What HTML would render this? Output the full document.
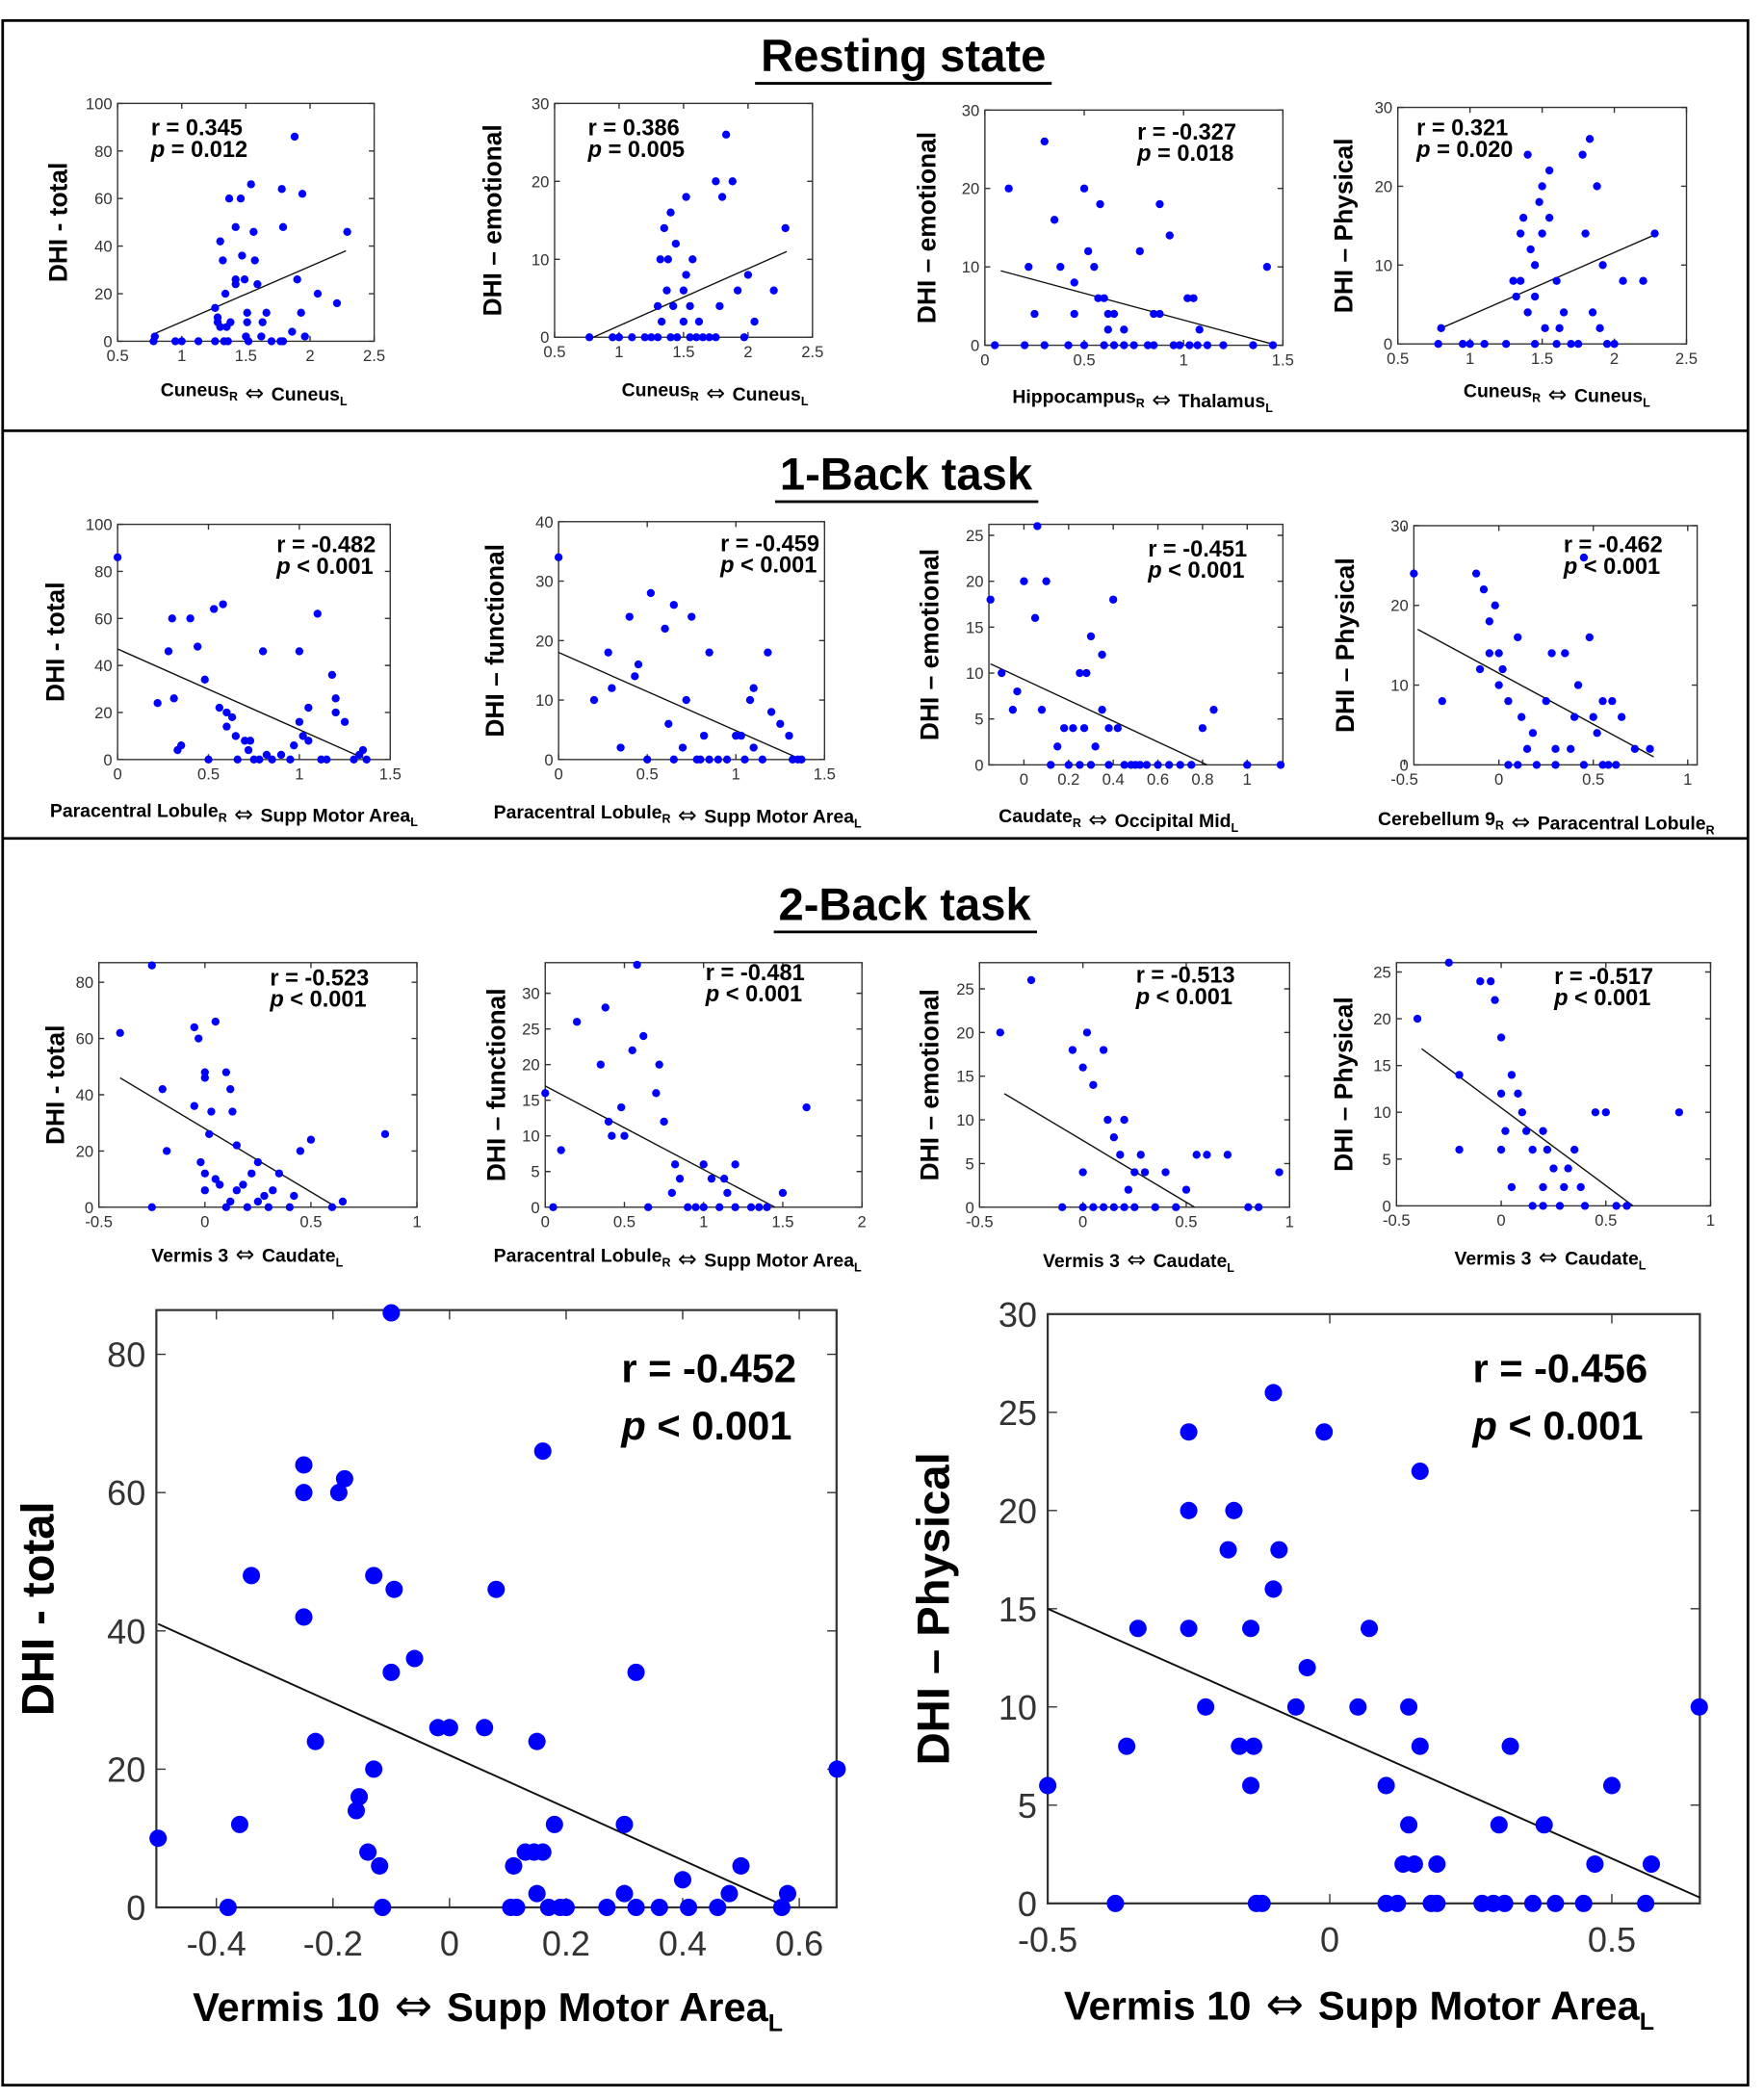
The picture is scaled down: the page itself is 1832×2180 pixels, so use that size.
<!DOCTYPE html>
<html><head><meta charset="utf-8"><title>DHI correlations</title>
<style>
html,body{margin:0;padding:0;background:#fff;}
svg{display:block;font-family:"Liberation Sans",Arial,sans-serif;}
</style></head>
<body>
<svg id="fig" width="1832" height="2180" viewBox="0 0 1320 1570" xmlns="http://www.w3.org/2000/svg">
<rect x="2" y="15" width="1306" height="1545" fill="none" stroke="#000" stroke-width="2"/>
<line x1="2" y1="322" x2="1308" y2="322" stroke="#000" stroke-width="2"/>
<line x1="2" y1="627" x2="1308" y2="627" stroke="#000" stroke-width="2"/>
<text x="676" y="53" text-anchor="middle" font-size="34" font-weight="bold">Resting state</text>
<line x1="565" y1="62" x2="787" y2="62" stroke="#000" stroke-width="2"/>
<text x="678" y="366" text-anchor="middle" font-size="34" font-weight="bold">1-Back task</text>
<line x1="580" y1="375" x2="777" y2="375" stroke="#000" stroke-width="2"/>
<text x="677" y="688" text-anchor="middle" font-size="34" font-weight="bold">2-Back task</text>
<line x1="579" y1="697" x2="776" y2="697" stroke="#000" stroke-width="2"/>
<g id="plots"></g>
</svg>
<script>
// ---- data arrays ----
const p1x=[0.78,0.79,0.95,1.0,1.13,1.26,1.26,1.28,1.28,1.3,1.3,1.32,1.33,1.34,1.35,1.36,1.37,1.38,1.42,1.42,1.42,1.46,1.47,1.49,1.5,1.51,1.51,1.52,1.54,1.56,1.57,1.59,1.62,1.63,1.66,1.7,1.77,1.78,1.79,1.79,1.86,1.88,1.9,1.93,1.94,1.96,2.06,2.21,2.29];
const p1y=[0,2,0,0,0,0,14,10,8,6,42,34,0,20,6,0,60,8,48,24,26,60,36,26,2,12,8,0,66,46,34,24,2,8,12,0,0,64,48,0,4,86,26,12,62,2,20,16,46];
const p2x=[0.77,0.95,1.0,1.1,1.2,1.25,1.3,1.32,1.33,1.35,1.37,1.38,1.4,1.42,1.44,1.45,1.5,1.5,1.52,1.52,1.55,1.57,1.6,1.62,1.65,1.75,1.78,1.8,1.83,1.88,1.92,1.97,2.0,2.05,2.2,2.29,1.3,1.4,1.55,1.7,1.75];
const p2y=[0,0,0,0,0,0,4,10,2,14,6,10,16,4,12,0,6,2,8,18,4,10,0,2,0,20,4,18,26,20,6,0,8,2,6,14,0,0,0,0,0];
const p3x=[0.05,0.12,0.2,0.22,0.25,0.3,0.35,0.38,0.42,0.45,0.45,0.5,0.52,0.55,0.57,0.58,0.6,0.62,0.62,0.65,0.6,0.7,0.75,0.78,0.82,0.85,0.85,0.88,0.88,0.93,0.95,0.98,1.02,1.05,1.03,1.07,1.08,1.12,1.2,1.35,1.42,1.45,0.3,0.5,0.65,0.7];
const p3y=[0,20,0,10,4,26,16,10,0,4,8,20,12,10,6,18,6,4,2,4,0,2,0,12,0,0,4,4,18,14,0,0,6,6,0,0,2,0,0,0,10,0,0,0,0,0];
const p4x=[0.78,0.8,0.95,1.0,1.1,1.25,1.3,1.32,1.35,1.35,1.37,1.4,1.4,1.42,1.45,1.45,1.48,1.5,1.5,1.52,1.55,1.55,1.6,1.6,1.62,1.65,1.7,1.75,1.78,1.8,1.83,1.85,1.88,1.9,1.92,2.0,2.06,2.2,2.28,1.95,1.45];
const p4y=[0,2,0,0,0,0,8,6,8,14,16,4,24,12,6,10,18,14,20,2,22,16,0,8,2,4,0,0,24,14,26,4,20,2,10,0,8,8,14,0,0];
const p5x=[0,0.22,0.28,0.3,0.31,0.33,0.35,0.4,0.44,0.48,0.5,0.53,0.56,0.58,0.6,0.6,0.63,0.65,0.66,0.7,0.72,0.73,0.75,0.8,0.78,0.82,0.85,0.9,0.95,0.97,1.0,1.0,1.02,1.05,1.05,1.1,1.12,1.15,1.18,1.2,1.2,1.25,1.3,1.33,1.35,1.37];
const p5y=[86,24,46,60,26,4,6,60,48,34,0,64,22,66,20,14,18,10,0,8,4,8,0,46,0,2,0,2,0,6,46,16,10,8,22,62,0,0,36,26,20,16,0,2,4,0];
const p6x=[0,0.2,0.28,0.3,0.35,0.4,0.43,0.45,0.5,0.52,0.6,0.62,0.65,0.65,0.7,0.72,0.75,0.78,0.8,0.82,0.85,0.85,0.9,0.95,1.0,1.03,1.05,1.08,1.1,1.1,1.15,1.18,1.2,1.25,1.3,1.32,1.37,1.35];
const p6y=[34,10,18,12,2,24,14,16,0,28,22,6,0,26,2,10,24,0,0,4,0,18,0,0,4,4,0,10,12,2,0,18,8,6,4,0,0,0];
const p7x=[-0.15,-0.1,-0.05,-0.03,0,0.05,0.06,0.08,0.1,0.12,0.15,0.18,0.2,0.22,0.25,0.27,0.28,0.3,0.32,0.35,0.35,0.38,0.4,0.38,0.42,0.45,0.48,0.5,0.52,0.55,0.6,0.65,0.7,0.75,0.8,0.85,1.0,1.15,0.3,0.25];
const p7y=[18,10,6,8,20,16,26,6,20,0,2,4,0,4,10,4,10,14,2,6,12,4,18,0,4,0,0,0,0,0,0,0,0,0,4,6,0,0,0,0];
const p8x=[-0.45,-0.3,-0.12,-0.08,-0.1,-0.05,-0.05,-0.02,0,0,0.02,0.05,0.05,0.1,0.12,0.1,0.15,0.18,0.2,0.25,0.28,0.3,0.3,0.35,0.38,0.4,0.42,0.45,0.48,0.5,0.52,0.55,0.58,0.6,0.62,0.65,0.72,0.8,0.55,0.45];
const p8y=[24,8,24,22,12,18,14,20,14,10,12,8,0,16,6,0,2,4,0,8,14,2,0,14,2,6,10,0,16,6,4,8,0,8,0,6,2,2,0,26];
const p9x=[-0.4,-0.25,-0.2,-0.18,-0.05,-0.03,-0.05,0,0,0.02,0.05,0.03,0.1,0.12,0.15,0.13,0,0,-0.02,0.05,0.07,0.1,0.12,0.15,0.18,0.2,0.22,0.25,0.25,0.28,0.3,0.32,0.35,0.4,0.42,0.45,0.5,0.6,0.65,0.85,-0.25];
const p9y=[62,86,42,20,64,60,36,46,48,26,66,34,48,42,22,34,12,6,16,10,8,0,2,6,8,0,12,16,2,4,0,6,12,0,4,20,24,0,2,26,0];
const p10x=[0,0.05,0.1,0.2,0.38,0.35,0.4,0.42,0.48,0.5,0.55,0.58,0.62,0.7,0.72,0.75,0.8,0.82,0.85,0.9,0.95,1.0,1.0,1.05,1.1,1.13,1.15,1.2,1.2,1.3,1.35,1.4,1.5,1.65,0.65];
const p10y=[16,0,8,26,28,20,12,10,14,10,22,34,24,16,20,12,2,6,4,0,0,0,6,4,0,4,2,6,0,0,0,0,2,14,0];
const p11x=[-0.4,-0.25,0,0.02,-0.05,0.1,0.05,0.12,0.15,0.18,0.2,0,0,0.05,0.1,0.15,0.2,0.22,0.25,0.28,0.3,0.35,0.4,0.45,0.5,0.55,0.6,0.7,0.8,0.85,0.95,-0.1,0.25];
const p11y=[20,26,16,20,18,18,14,10,8,6,10,4,0,0,0,0,0,2,4,6,4,0,4,0,2,6,6,6,0,0,4,0,0];
const p12x=[-0.4,-0.25,-0.2,-0.1,-0.05,-0.03,0,0,0.02,0,0.05,0.08,0.1,0.12,0.15,0.2,0.2,0.22,0.25,0.28,0.3,0.32,0.35,0.38,0.4,0.45,0.5,0.55,0.6,0.85,-0.2,0.05,0.15,0.2];
const p12y=[20,26,14,24,24,22,18,12,8,6,14,12,10,8,6,2,8,6,4,0,2,4,6,2,0,10,10,0,0,10,6,2,0,0];
const p13x=[-0.5,-0.38,-0.36,-0.34,-0.25,-0.25,-0.25,-0.23,-0.19,-0.18,-0.16,-0.155,-0.14,-0.13,-0.13,-0.12,-0.115,-0.1,-0.1,-0.095,-0.06,-0.02,0,0.06,0.08,0.105,0.11,0.115,0.13,0.145,0.15,0.15,0.16,0.16,0.17,0.18,0.19,0.2,0.27,0.3,0.3,0.32,0.32,0.36,0.4,0.41,0.46,0.48,0.5,0.57,0.58,0.665];
const p13y=[10,0,12,48,64,60,42,24,60,62,14,16,8,20,48,6,0,86,34,46,36,26,26,26,46,0,6,0,8,8,24,2,8,66,0,12,0,0,0,12,2,34,0,0,4,0,0,2,6,0,2,20];
const p14x=[-0.5,-0.38,-0.34,-0.36,-0.25,-0.25,-0.25,-0.22,-0.18,-0.17,-0.16,-0.14,-0.14,-0.135,-0.13,-0.12,-0.1,-0.1,-0.09,-0.06,-0.04,-0.01,0.05,0.07,0.1,0.1,0.12,0.13,0.14,0.14,0.15,0.16,0.16,0.18,0.19,0.19,0.27,0.29,0.31,0.3,0.32,0.36,0.38,0.4,0.45,0.47,0.5,0.56,0.57,0.655];
const p14y=[6,0,14,8,24,20,14,10,18,20,8,6,14,8,0,0,26,16,18,10,12,24,10,14,6,0,0,2,10,4,2,8,22,0,2,0,0,0,0,4,8,0,4,0,0,2,6,0,2,10];
// regression line endpoints (x pairs, y pairs)
const fitX=[[0.78,2.28],[0.8,2.3],[0.08,1.47],[0.8,2.3],[0,1.37],[0,1.37],[-0.15,0.82],[-0.43,0.82],[-0.4,0.62],[0,1.45],[-0.38,0.54],[-0.38,0.63],[-0.5,0.58],[-0.5,0.656]];
const fitY=[[3,38],[0,11],[9.5,0],[2,14],[47,0],[18,0],[11,0],[17,1],[46,0],[17,0],[13,0],[16.8,0],[41,0],[15,0.3]];
const rVals=["0.345","0.386","-0.327","0.321","-0.482","-0.459","-0.451","-0.462","-0.523","-0.481","-0.513","-0.517","-0.452","-0.456"];
const pVals=["= 0.012","= 0.005","= 0.018","= 0.020","< 0.001","< 0.001","< 0.001","< 0.001","< 0.001","< 0.001","< 0.001","< 0.001","< 0.001","< 0.001"];
const yLabels=["DHI - total","DHI \u2013 emotional","DHI \u2013 emotional","DHI \u2013 Physical","DHI - total","DHI \u2013 functional","DHI \u2013 emotional","DHI \u2013 Physical","DHI - total","DHI \u2013 functional","DHI \u2013 emotional","DHI \u2013 Physical","DHI - total","DHI \u2013 Physical"];
const xLabA=["Cuneus","Cuneus","Hippocampus","Cuneus","Paracentral Lobule","Paracentral Lobule","Caudate","Cerebellum 9","Vermis 3","Paracentral Lobule","Vermis 3","Vermis 3","Vermis 10","Vermis 10"];
const xSubA=["R","R","R","R","R","R","R","R","","R","","","",""];
const xLabB=["Cuneus","Cuneus","Thalamus","Cuneus","Supp Motor Area","Supp Motor Area","Occipital Mid","Paracentral Lobule","Caudate","Supp Motor Area","Caudate","Caudate","Supp Motor Area","Supp Motor Area"];
const xSubB=["L","L","L","L","L","L","L","R","L","L","L","L","L","L"];
const xTicks=[[0.5,1,1.5,2,2.5],[0.5,1,1.5,2,2.5],[0,0.5,1,1.5],[0.5,1,1.5,2,2.5],[0,0.5,1,1.5],[0,0.5,1,1.5],[0,0.2,0.4,0.6,0.8,1],[-0.5,0,0.5,1],[-0.5,0,0.5,1],[0,0.5,1,1.5,2],[-0.5,0,0.5,1],[-0.5,0,0.5,1],[-0.4,-0.2,0,0.2,0.4,0.6],[-0.5,0,0.5]];
const yTicks=[[0,20,40,60,80,100],[0,10,20,30],[0,10,20,30],[0,10,20,30],[0,20,40,60,80,100],[0,10,20,30,40],[0,5,10,15,20,25],[0,10,20,30],[0,20,40,60,80],[0,5,10,15,20,25,30],[0,5,10,15,20,25],[0,5,10,15,20,25],[0,20,40,60,80],[0,5,10,15,20,25,30]];
const allX=[p1x,p2x,p3x,p4x,p5x,p6x,p7x,p8x,p9x,p10x,p11x,p12x,p13x,p14x];
const allY=[p1y,p2y,p3y,p4y,p5y,p6y,p7y,p8y,p9y,p10y,p11y,p12y,p13y,p14y];
// ---- layout (positions only) ----
const L=[
 {l:88,t:77,r:280,b:255,x0:0.5,x1:2.5,y0:0,y1:100,yl:50,sx:113,sy:101,xc:190,xy:296},
 {l:415,t:77,r:608,b:252,x0:0.5,x1:2.5,y0:0,y1:30,yl:375,sx:440,sy:101,xc:535,xy:296},
 {l:737,t:82,r:960,b:258,x0:0,x1:1.5,y0:0,y1:30,yl:700,sx:851,sy:104,xc:855,xy:301},
 {l:1046,t:80,r:1262,b:257,x0:0.5,x1:2.5,y0:0,y1:30,yl:1012,sx:1060,sy:101,xc:1165,xy:297},
 {l:88,t:392,r:292,b:568,x0:0,x1:1.5,y0:0,y1:100,yl:48,sx:207,sy:413,xc:175,xy:611},
 {l:418,t:390,r:617,b:568,x0:0,x1:1.5,y0:0,y1:40,yl:377,sx:539,sy:412,xc:507,xy:612},
 {l:740,t:392,r:960,b:572,x0:-0.157,x1:1.16,y0:0,y1:26.2,yl:702,sx:859,sy:416,xc:837,xy:615},
 {l:1058,t:393,r:1270,b:572,x0:-0.45,x1:1.05,y0:0,y1:30,yl:1013,sx:1170,sy:413,xc:1157,xy:617},
 {l:74,t:720,r:312,b:903,x0:-0.5,x1:1,y0:0,y1:87,yl:48,sx:202,sy:737,xc:185,xy:944},
 {l:408,t:720,r:645,b:903,x0:0,x1:2,y0:0,y1:34.3,yl:378,sx:528,sy:733,xc:507,xy:944},
 {l:733,t:720,r:965,b:903,x0:-0.5,x1:1,y0:0,y1:28,yl:702,sx:850,sy:735,xc:852,xy:948},
 {l:1045,t:720,r:1280,b:902,x0:-0.5,x1:1,y0:0,y1:26,yl:1012,sx:1163,sy:736,xc:1160,xy:946},
 {l:117,t:980,r:626,b:1427,x0:-0.503,x1:0.664,y0:0,y1:86.4,yl:40,sx:465,sy:1034,xc:365,xy:1512,big:1},
 {l:784,t:983,r:1272,b:1424,x0:-0.5,x1:0.656,y0:0,y1:30,yl:710,sx:1102,sy:1034,xc:1017,xy:1511,big:1}
];
const NS="http://www.w3.org/2000/svg";
const root=document.getElementById('plots');
function mk(tag,attrs,parent){const e=document.createElementNS(NS,tag);for(const k in attrs)e.setAttribute(k,attrs[k]);parent.appendChild(e);return e;}
L.forEach((c,i)=>{
  const big=!!c.big;
  const sx=v=>c.l+(v-c.x0)/(c.x1-c.x0)*(c.r-c.l);
  const sy=v=>c.b-(v-c.y0)/(c.y1-c.y0)*(c.b-c.t);
  const g=mk('g',{},root);
  
  
  const box=mk('rect',{x:c.l,y:c.t,width:c.r-c.l,height:c.b-c.t,fill:'#fff',stroke:'#333','stroke-width':big?1.6:1},g);
  
  
  const tl=big?7:4, fs=big?26:12;
  xTicks[i].forEach(v=>{
    const x=sx(v);
    const tk=mk('path',{d:`M${x},${c.b}v${-tl}M${x},${c.t}v${tl}`,stroke:'#333','stroke-width':1},g);
    
    
    const t=mk('text',{x:x,y:c.b+(big?36:15),'text-anchor':'middle','font-size':fs,fill:'#333'},g);
    t.textContent=v;
    
    
  });
  yTicks[i].forEach(v=>{
    const y=sy(v);
    const tk=mk('path',{d:`M${c.l},${y}h${tl}M${c.r},${y}h${-tl}`,stroke:'#333','stroke-width':1},g);
    
    
    const t=mk('text',{x:c.l-(big?8:4),y:y+fs*0.36,'text-anchor':'end','font-size':fs,fill:'#333'},g);
    t.textContent=v;
    
    
  });
  const fx=fitX[i],fy=fitY[i];
  const ln=mk('line',{x1:sx(fx[0]),y1:sy(fy[0]),x2:sx(fx[1]),y2:sy(fy[1]),stroke:'#111','stroke-width':big?1.4:1},g);
  
  
  const xs=allX[i],ys=allY[i];
  xs.forEach((xv,j)=>{
    const d=mk('circle',{cx:sx(xv),cy:sy(ys[j]),r:big?6.5:3,fill:'#0000ff'},g);
    
    
  });
  const sf=big?30:17, lh=big?43:16;
  const r=mk('text',{x:c.sx,y:c.sy,'font-size':sf,'font-weight':'bold'},g);
  r.textContent='r = '+rVals[i];
  
  
  const p=mk('text',{x:c.sx,y:c.sy+lh,'font-size':sf,'font-weight':'bold'},g);
  p.innerHTML='<tspan font-style="italic">p</tspan> '+pVals[i].replace('<','&lt;');
  
  
  const ym=(c.t+c.b)/2, yfs=big?34:19;
  const yl=mk('text',{x:c.yl,y:ym,'text-anchor':'middle','font-size':yfs,'font-weight':'bold',transform:`rotate(-90 ${c.yl} ${ym})`},g);
  yl.textContent=yLabels[i];
  
  
  const xfs=big?30:14, sub=big?18:9, afs=big?34:17;
  const arrow=`<tspan font-family="DejaVu Sans" font-weight="normal" font-size="${afs}"> \u21D4 </tspan>`;
  const xl=mk('text',{x:c.xc,y:c.xy,'text-anchor':'middle','font-size':xfs,'font-weight':'bold'},g);
  let h=xLabA[i];
  if(xSubA[i]) h+=`<tspan font-size="${sub}" dy="${xfs*0.25}">${xSubA[i]}</tspan><tspan dy="${-xfs*0.25}"></tspan>`;
  h+=arrow;
  h+=xLabB[i]+`<tspan font-size="${sub}" dy="${xfs*0.25}">${xSubB[i]}</tspan>`;
  xl.innerHTML=h;
  
  
});
</script>
</body></html>
